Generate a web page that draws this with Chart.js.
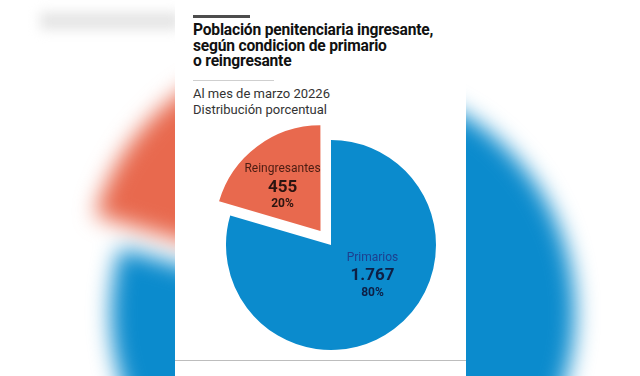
<!DOCTYPE html>
<html lang="es">
<head>
    <meta charset="UTF-8">
    <title>Población penitenciaria ingresante</title>
    <script src="https://cdn.jsdelivr.net/npm/chart.js"></script>
    <style>
        html, body {
            margin: 0;
            padding: 0;
            width: 640px;
            height: 376px;
            overflow: hidden;
            background: #fff;
            font-family: Roboto, "Open Sans", sans-serif;
        }
        /* blurred copy of the chart behind the card */
        #bgWrap {
            position: absolute;
            left: 43px;
            top: 13px;
            width: 600px;
            height: 600px;
            filter: blur(11px);
        }
        #topBlur {
            position: absolute;
            left: 40px;
            top: 12px;
            width: 140px;
            height: 18px;
            background: #e6e6e6;
            filter: blur(6px);
        }
        .panel {
            position: absolute;
            left: 175px;
            top: 0;
            width: 291px;
            height: 376px;
            background: #fff;
        }
        .bar {
            position: absolute;
            left: 18px;
            top: 15px;
            width: 57px;
            height: 3px;
            background: #4d4d4d;
        }
        .title {
            position: absolute;
            left: 18px;
            top: 23px;
            font-weight: bold;
            font-size: 15.6px;
            line-height: 15.5px;
            color: #111;
            letter-spacing: -0.2px;
        }
        .sep {
            position: absolute;
            left: 18px;
            top: 80px;
            width: 81px;
            height: 1px;
            background: #cfcfcf;
        }
        .sub {
            position: absolute;
            left: 18px;
            top: 86px;
            font-size: 13px;
            line-height: 15.5px;
            color: #333;
        }
        .bottomLine {
            position: absolute;
            left: 0;
            top: 360px;
            width: 291px;
            height: 1px;
            background: #bdbdbd;
        }
        #chartWrap {
            position: absolute;
            left: 26px;
            top: 115px;
            width: 260px;
            height: 260px;
        }
    </style>
</head>
<body>
    <div id="bgWrap"><canvas id="bgChart"></canvas></div>
    <div id="topBlur"></div>
    <div class="panel">
        <div class="bar"></div>
        <div class="title">Población penitenciaria ingresante,<br>según condicion de primario<br>o reingresante</div>
        <div class="sep"></div>
        <div class="sub">Al mes de marzo 20226<br>Distribución porcentual</div>
        <div id="chartWrap"><canvas id="myChart"></canvas></div>
        <div class="bottomLine"></div>
    </div>
    <script>
        var categories = ["Primarios", "Reingresantes"];
        var values = [1767, 455];
        var valueLabels = ["1.767", "455"];
        var percents = ["80%", "20%"];

        var sliceColors = ["#0b8bcd", "#e8694e"];
        var nameColors = ["#1d3f8f", "#4a1c12"];
        var numberColors = ["#0e1f45", "#2b1410"];
        // nudges from the arc centre point to the middle text line
        var labelShift = [[10, -11], [4, 12.5]];

        // writes name / value / percent inside each slice
        var sliceLabels = {
            id: "sliceLabels",
            afterDatasetsDraw: function(chart) {
                var ctx = chart.ctx;
                var arcs = chart.getDatasetMeta(0).data;
                ctx.save();
                ctx.textAlign = "center";
                ctx.textBaseline = "middle";
                arcs.forEach(function(arc, i) {
                    var p = arc.getCenterPoint();
                    var x = p.x + labelShift[i][0];
                    var y = p.y + labelShift[i][1];
                    ctx.fillStyle = nameColors[i];
                    ctx.font = "12px Roboto";
                    ctx.fillText(categories[i], x, y - 18);
                    ctx.fillStyle = numberColors[i];
                    ctx.font = "bold 17px Roboto";
                    ctx.fillText(valueLabels[i], x, y);
                    ctx.font = "bold 12px Roboto";
                    ctx.fillText(percents[i], x, y + 17);
                });
                ctx.restore();
            }
        };

        // v4 arcs move by offset / 4 when drawn
        function makePie(id, radius, offset, withLabels) {
            return new Chart(document.getElementById(id), {
                type: "pie",
                data: {
                    labels: categories,
                    datasets: [{
                        data: values,
                        backgroundColor: sliceColors,
                        borderWidth: 0,
                        offset: [0, offset]
                    }]
                },
                options: {
                    responsive: true,
                    maintainAspectRatio: false,
                    animation: false,
                    radius: radius,
                    layout: { padding: 0 },
                    plugins: {
                        legend: { display: false },
                        tooltip: { enabled: false }
                    },
                    events: []
                },
                plugins: withLabels ? [sliceLabels] : []
            });
        }

        makePie("bgChart", 232, 160, false);
        makePie("myChart", 105, 70, true);
    </script>
</body>
</html>
